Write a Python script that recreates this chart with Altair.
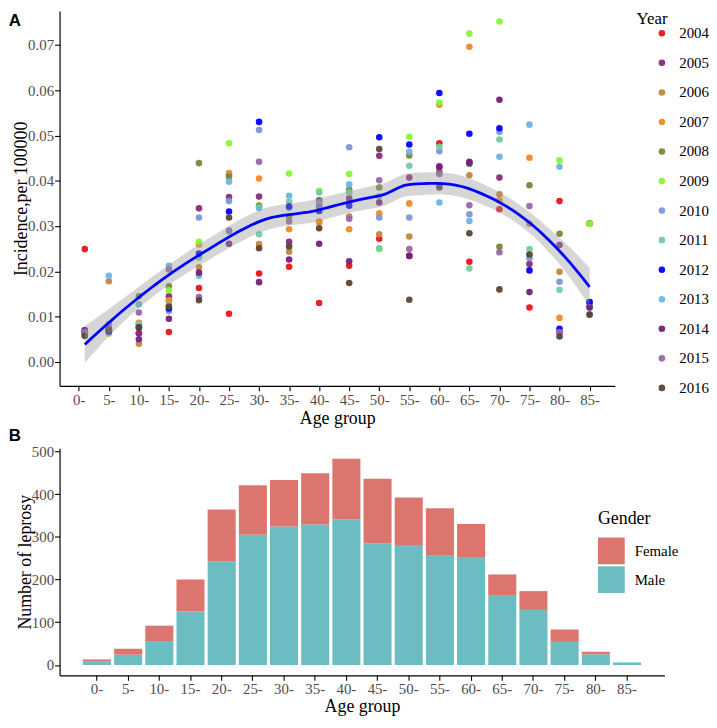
import altair as alt
import pandas as pd
import numpy as np

# ---------------- data ----------------
age_mid = [1, 5, 10, 15, 20, 25, 30, 35, 40, 45, 50, 55, 60, 65, 70, 75, 80, 85]
age_ticks = [0, 5, 10, 15, 20, 25, 30, 35, 40, 45, 50, 55, 60, 65, 70, 75, 80, 85]
age_labels = ["0-", "5-", "10-", "15-", "20-", "25-", "30-", "35-", "40-", "45-",
              "50-", "55-", "60-", "65-", "70-", "75-", "80-", "85-"]

years = ["2004", "2005", "2006", "2007", "2008", "2009", "2010",
         "2011", "2012", "2013", "2014", "2015", "2016"]
year_colors = ["#E8141B", "#8A2A78", "#C4843F", "#EE8A2A", "#738A36", "#85F53A", "#7D95DC",
               "#72CDA0", "#0000FF", "#6BB5E5", "#761F7A", "#9A66AC", "#5A4632"]

inc_2004 = [0.0249, 0.0068, 0.0063, 0.0066, 0.0163, 0.0106, 0.0195, 0.0210, 0.0130, 0.0212, 0.0272, 0.0234, 0.0483, 0.0221, 0.0337, 0.0120, 0.0355, 0.0131]
inc_2005 = [0.0068, 0.0072, 0.0063, 0.0145, 0.0339, 0.0364, 0.0365, 0.0265, 0.0357, 0.0361, 0.0455, 0.0407, 0.0432, 0.0442, 0.0407, 0.0216, 0.0258, 0.0122]
inc_2006 = [0.0062, 0.0178, 0.0040, 0.0134, 0.0209, 0.0412, 0.0260, 0.0243, 0.0308, 0.0321, 0.0282, 0.0277, 0.0390, 0.0412, 0.0370, 0.0305, 0.0199, 0.0305]
inc_2007 = [0.0060, 0.0070, 0.0086, 0.0136, 0.0259, 0.0417, 0.0405, 0.0293, 0.0310, 0.0293, 0.0328, 0.0350, 0.0568, 0.0696, 0.0357, 0.0451, 0.0097, 0.0305]
inc_2008 = [0.0065, 0.0068, 0.0145, 0.0167, 0.0439, 0.0409, 0.0345, 0.0321, 0.0355, 0.0380, 0.0385, 0.0456, 0.0420, 0.0437, 0.0254, 0.0390, 0.0283, 0.0306]
inc_2009 = [0.0063, 0.0062, 0.0127, 0.0158, 0.0265, 0.0483, 0.0341, 0.0416, 0.0378, 0.0415, 0.0249, 0.0497, 0.0573, 0.0725, 0.0752, 0.0237, 0.0445, 0.0305]
inc_2010 = [0.0066, 0.0083, 0.0083, 0.0112, 0.0319, 0.0355, 0.0512, 0.0340, 0.0350, 0.0474, 0.0319, 0.0319, 0.0465, 0.0326, 0.0508, 0.0229, 0.0177, 0.0131]
inc_2011 = [0.0062, 0.0065, 0.0083, 0.0125, 0.0230, 0.0288, 0.0282, 0.0354, 0.0374, 0.0374, 0.0251, 0.0433, 0.0475, 0.0206, 0.0491, 0.0249, 0.0159, 0.0131]
inc_2012 = [0.0064, 0.0067, 0.0076, 0.0118, 0.0239, 0.0332, 0.0530, 0.0343, 0.0333, 0.0345, 0.0496, 0.0480, 0.0594, 0.0504, 0.0516, 0.0202, 0.0073, 0.0132]
inc_2013 = [0.0061, 0.0190, 0.0127, 0.0212, 0.0190, 0.0398, 0.0340, 0.0367, 0.0345, 0.0392, 0.0365, 0.0464, 0.0352, 0.0311, 0.0453, 0.0524, 0.0431, 0.0120]
inc_2014 = [0.0070, 0.0069, 0.0050, 0.0095, 0.0197, 0.0261, 0.0176, 0.0226, 0.0261, 0.0222, 0.0352, 0.0234, 0.0430, 0.0440, 0.0579, 0.0154, 0.0065, 0.0120]
inc_2015 = [0.0066, 0.0075, 0.0109, 0.0204, 0.0143, 0.0290, 0.0442, 0.0310, 0.0343, 0.0316, 0.0401, 0.0249, 0.0415, 0.0346, 0.0242, 0.0344, 0.0066, 0.0105]
inc_2016 = [0.0057, 0.0071, 0.0076, 0.0122, 0.0136, 0.0319, 0.0251, 0.0255, 0.0295, 0.0174, 0.0470, 0.0137, 0.0385, 0.0284, 0.0160, 0.0237, 0.0056, 0.0104]

incidence = [inc_2004, inc_2005, inc_2006, inc_2007, inc_2008, inc_2009, inc_2010,
             inc_2011, inc_2012, inc_2013, inc_2014, inc_2015, inc_2016]

male_counts = [9, 24, 56, 125, 243, 305, 324, 329, 341, 285, 281, 256, 251, 162, 129, 54, 25, 6]
female_counts = [4, 14, 36, 75, 121, 116, 109, 120, 142, 151, 111, 111, 79, 50, 44, 29, 6, 0]

# ---------------- tables ----------------
rows = []
for yr, vals in zip(years, incidence):
    for a, v in zip(age_mid, vals):
        rows.append({"age": a, "year": yr, "inc": v})
pts = pd.DataFrame(rows)

# loess smooth like R's loess (degree 2, span 0.75, kd-tree vertices + cubic
# Hermite interpolation) with a 95% confidence band, as geom_smooth draws it
xv = pts["age"].to_numpy(float)
yv = pts["inc"].to_numpy(float)
n = len(xv)
span = 0.75
q = int(np.floor(n * span))


def local_rows(x0):
    d = np.abs(xv - x0)
    h = max(np.sort(d)[q - 1], 1e-9)
    u = d / h
    w = np.where(u < 1, (1 - u ** 3) ** 3, 0.0)
    A = np.column_stack([np.ones(n), xv - x0, (xv - x0) ** 2])
    AtW = A.T * w
    M = np.linalg.solve(AtW @ A, AtW)
    return M[0], M[1]


def kd_vertices(xs_sorted, fc):
    lo, hi = xs_sorted[0], xs_sorted[-1]
    mu = 0.005 * (hi - lo)
    verts = {lo - mu, hi + mu}

    def split(l, u):
        if u - l + 1 <= fc:
            return
        m = (l + u) // 2
        offs = [0]
        k = 1
        while len(offs) < 2 * (u - l) + 2:
            offs += [k, -k]
            k += 1
        mm = None
        for o in offs:
            c = m + o
            if c >= u or c < l:
                continue
            if xs_sorted[c] != xs_sorted[c + 1]:
                mm = c
                break
        if mm is None:
            return
        verts.add(xs_sorted[mm])
        split(l, mm)
        split(mm + 1, u)

    split(0, len(xs_sorted) - 1)
    return sorted(verts)


verts = kd_vertices(np.sort(xv), int(np.floor(n * span * 0.2)))
vrows = [local_rows(v) for v in verts]


def interp_rows(x0s):
    out = []
    for x0 in x0s:
        j = int(np.searchsorted(verts, x0, side="right") - 1)
        j = min(max(j, 0), len(verts) - 2)
        va, vb = verts[j], verts[j + 1]
        hh = vb - va
        t = (x0 - va) / hh
        h00 = 2 * t ** 3 - 3 * t ** 2 + 1
        h10 = t ** 3 - 2 * t ** 2 + t
        h01 = -2 * t ** 3 + 3 * t ** 2
        h11 = t ** 3 - t ** 2
        out.append(h00 * vrows[j][0] + h10 * hh * vrows[j][1]
                   + h01 * vrows[j + 1][0] + h11 * hh * vrows[j + 1][1])
    return np.array(out)


Lm = interp_rows(xv)
R = np.eye(n) - Lm
d1 = np.trace(R.T @ R)
res = yv - Lm @ yv
s2 = res @ res / d1
grid = np.linspace(min(age_mid), max(age_mid), 80)
G = interp_rows(grid)
fit = G @ yv
se = np.sqrt(s2 * np.sum(G ** 2, axis=1))
smooth = pd.DataFrame({"age": grid, "fit": fit, "lo": fit - 1.97 * se, "hi": fit + 1.97 * se})

brow = []
for lab, m, f in zip(age_labels, male_counts, female_counts):
    brow.append({"age": lab, "gender": "Male", "n": m, "ord": 0})
    brow.append({"age": lab, "gender": "Female", "n": f, "ord": 1})
bars = pd.DataFrame(brow)

SERIF = "Liberation Serif"

# ---------------- panel A ----------------
xs = alt.Scale(domain=[-3.2, 89.2], nice=False, zero=False)
ys = alt.Scale(domain=[-0.0053, 0.0775], nice=False, zero=False)
xax = alt.Axis(values=age_ticks, labelExpr="datum.value + '-'", title="Age group", grid=False,
               labelOverlap=False, labelFlush=False)
yax = alt.Axis(values=[0, 0.01, 0.02, 0.03, 0.04, 0.05, 0.06, 0.07], format=".2f",
               title="Incidence,per 100000", grid=False, labelOverlap=False)

points = alt.Chart(pts).mark_circle(size=44, opacity=0.95).encode(
    x=alt.X("age:Q", scale=xs, axis=xax),
    y=alt.Y("inc:Q", scale=ys, axis=yax),
    color=alt.Color("year:N", scale=alt.Scale(domain=years, range=year_colors),
                    legend=alt.Legend(title="Year", orient="right", offset=22,
                                      titleFontSize=17, titleFont=SERIF, titleFontWeight="normal",
                                      titleColor="black", labelFont=SERIF, labelFontSize=15,
                                      labelColor="black", symbolType="circle", symbolSize=44,
                                      symbolOffset=18, labelOffset=10, rowPadding=13.8,
                                      titlePadding=-2, symbolStrokeWidth=0)),
)
band = alt.Chart(smooth).mark_area(color="#999999", opacity=0.4).encode(
    x=alt.X("age:Q", scale=xs, axis=xax), y=alt.Y("lo:Q", scale=ys, axis=yax), y2="hi:Q")
line = alt.Chart(smooth).mark_line(color="#0000FF", strokeWidth=2.8).encode(
    x=alt.X("age:Q", scale=xs, axis=xax), y=alt.Y("fit:Q", scale=ys, axis=yax))
labA = alt.Chart(pd.DataFrame({"t": ["A"]})).mark_text(
    font="Liberation Sans", fontSize=17, fontWeight="bold", align="center", baseline="middle",
    color="black").encode(text="t:N", x=alt.value(-45), y=alt.value(10))

top = alt.layer(points, band, line, labA).properties(width=560, height=378)

# ---------------- panel B ----------------
barc = alt.Chart(bars).mark_bar().encode(
    x=alt.X("age:N", sort=age_labels,
            scale=alt.Scale(paddingInner=0.1, paddingOuter=0.75),
            axis=alt.Axis(title="Age group", labelAngle=0, grid=False, labelPadding=1,
                          titlePadding=1, labelOverlap=False)),
    y=alt.Y("n:Q", stack="zero",
            scale=alt.Scale(domain=[-24.2, 507.3], nice=False, zero=False),
            axis=alt.Axis(values=[0, 100, 200, 300, 400, 500], title="Number of leprosy", grid=False)),
    color=alt.Color("gender:N", scale=alt.Scale(domain=["Female", "Male"], range=["#DD756F", "#6BBDC2"]),
                    legend=alt.Legend(title="Gender", orient="none", legendX=543, legendY=62,
                                      titleFontSize=18, titleFont=SERIF, titleFontWeight="normal",
                                      titleColor="black", labelFont=SERIF, labelFontSize=15,
                                      labelColor="black", symbolType="square", symbolSize=729,
                                      symbolStrokeWidth=0, labelOffset=10, rowPadding=2,
                                      titlePadding=10)),
    order=alt.Order("ord:Q"),
)
labB = alt.Chart(pd.DataFrame({"t": ["B"]})).mark_text(
    font="Liberation Sans", fontSize=17, fontWeight="bold", align="center", baseline="middle",
    color="black").encode(text="t:N", x=alt.value(-45), y=alt.value(-12))

bottom = alt.layer(barc, labB).properties(width=610, height=229)

chart = alt.vconcat(top, bottom, spacing=0).resolve_scale(
    color="independent", x="independent", y="independent"
).resolve_legend(color="independent").properties(
    padding={"left": 0, "top": 0, "right": 0, "bottom": 0}
).configure_view(
    stroke=None
).configure_axis(
    domainColor="black", domainWidth=1.2, tickColor="black", tickSize=5, tickWidth=1.1,
    labelColor="#4D4D4D", labelFont=SERIF, labelFontSize=15, labelPadding=2,
    titleFont=SERIF, titleFontSize=18, titleFontWeight="normal", titleColor="black",
    titlePadding=2, labelOverlap=False
).configure_axisY(titlePadding=-3, labelPadding=1)

chart.save("out.html", embed_options={"renderer": "svg", "actions": False})
